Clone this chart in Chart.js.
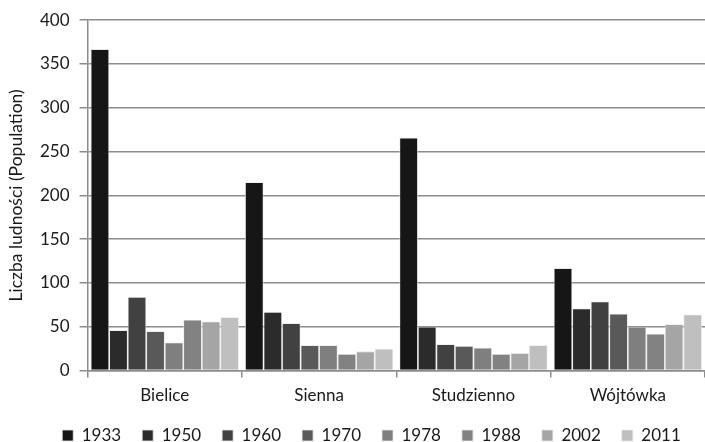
<!DOCTYPE html>
<html>
<head>
<meta charset="utf-8">
<script src="https://cdn.jsdelivr.net/npm/chart.js@4/dist/chart.umd.min.js"></script>
<style>
  html, body { margin: 0; padding: 0; background: #fff; }
  #wrap { width: 705px; height: 442px; }
</style>
</head>
<body>
<div id="wrap"><canvas id="chart" width="705" height="442"></canvas></div>
<script>
// Dane
const villages = ['Bielice', 'Sienna', 'Studzienno', 'Wójtówka'];
const years = ['1933', '1950', '1960', '1970', '1978', '1988', '2002', '2011'];
const pop1933 = [367, 215, 266, 117];
const pop1950 = [46, 67, 50, 71];
const pop1960 = [84, 54, 30, 79];
const pop1970 = [45, 29, 28, 65];
const pop1978 = [32, 29, 26, 50];
const pop1988 = [58, 19, 19, 42];
const pop2002 = [56, 22, 20, 53];
const pop2011 = [61, 25, 29, 64];
const yTicks = [0, 50, 100, 150, 200, 250, 300, 350, 400];

const seriesValues = [pop1933, pop1950, pop1960, pop1970, pop1978, pop1988, pop2002, pop2011];
const shades = ['#161616', '#2b2b2b', '#414141', '#595959', '#7f7f7f', '#828282', '#a5a5a5', '#bfbfbf'];

const FONT = 'Lato, "Open Sans", sans-serif';

const datasets = years.map((y, i) => ({
    label: y,
    data: seriesValues[i],
    backgroundColor: shades[i],
    borderColor: '#e6e6e6',
    borderWidth: 0.8,
    barPercentage: 1.0,
    categoryPercentage: 0.96
}));

// przesuwa legende (w oryginale nie jest wysrodkowana na calym obrazku)
const legendShift = {
    id: 'legendShift',
    afterLayout(chart) {
        const lg = chart.legend;
        const dx = 16, dy = -8;
        lg.left += dx; lg.right += dx;
        lg.top += dy; lg.bottom += dy;
    }
};

new Chart(document.getElementById('chart').getContext('2d'), {
    type: 'bar',
    data: { labels: villages, datasets: datasets },
    options: {
        responsive: false,
        animation: false,
        layout: { padding: { top: 11, right: 0, left: 6, bottom: -20 } },
        scales: {
            x: {
                grid: { drawOnChartArea: false, drawTicks: true, tickLength: 7, color: '#8c8c8c', lineWidth: 1.5 },
                border: { color: '#8c8c8c', width: 1.5 },
                ticks: { color: '#1a1a1a', font: { family: FONT, size: 17 }, padding: 8 }
            },
            y: {
                min: 0,
                max: 400,
                afterBuildTicks: (axis) => { axis.ticks = yTicks.map(v => ({ value: v })); },
                grid: { color: '#8c8c8c', lineWidth: 1.5, tickLength: 8 },
                border: { color: '#8c8c8c', width: 1.5 },
                ticks: { color: '#1a1a1a', font: { family: FONT, size: 17 }, padding: 10 },
                title: { display: true, text: 'Liczba ludności (Population)', color: '#1a1a1a', font: { family: FONT, size: 17.5 }, padding: { top: 0, bottom: 3 } }
            }
        },
        plugins: {
            legend: {
                position: 'bottom',
                labels: { color: '#1a1a1a', font: { family: FONT, size: 17 }, boxWidth: 11, boxHeight: 11, padding: 21 }
            },
            tooltip: { enabled: false }
        }
    },
    plugins: [legendShift]
});
</script>
</body>
</html>
